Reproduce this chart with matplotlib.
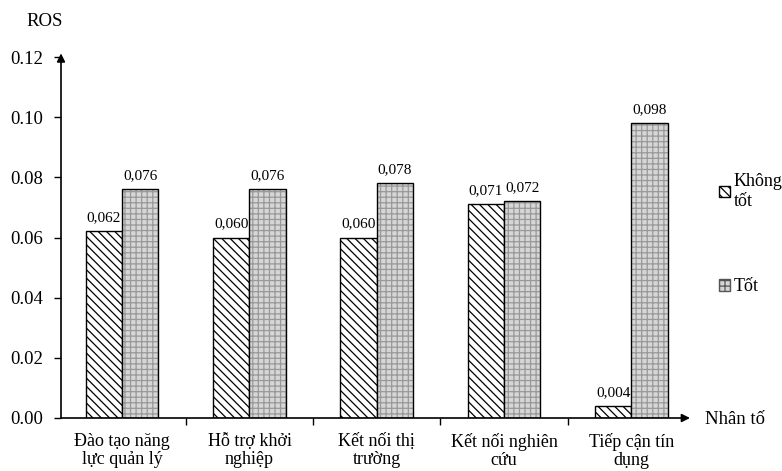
import matplotlib
matplotlib.use("Agg")
import matplotlib.pyplot as plt
import numpy as np
from matplotlib.patches import Patch

plt.rcParams['font.family'] = ['Liberation Serif', 'DejaVu Serif']
plt.rcParams['hatch.linewidth'] = 0.9

categories = ["Đào tạo năng\nlực quản lý", "Hỗ trợ khởi\nnghiệp", "Kết nối thị\ntrường",
              "Kết nối nghiên\ncứu", "Tiếp cận tín\ndụng"]
khong_tot = [0.062, 0.060, 0.060, 0.071, 0.004]
tot = [0.076, 0.076, 0.078, 0.072, 0.098]
khong_tot_labels = ["0,062", "0,060", "0,060", "0,071", "0,004"]
tot_labels = ["0,076", "0,076", "0,078", "0,072", "0,098"]
yticks = [0.00, 0.02, 0.04, 0.06, 0.08, 0.10, 0.12]

fig = plt.figure(figsize=(7.82, 4.71), dpi=100)
ax = fig.add_axes([61 / 782, 1 - 418 / 471, 629 / 782, 361 / 471])

x = np.arange(len(categories))
w = 0.285

# "Không tốt": white with diagonal hatch
ax.bar(x - w / 2, khong_tot, w, color='white', edgecolor='black', hatch='\\\\\\\\', linewidth=1)
# "Tốt": light grey with a faint grid pattern, outline drawn separately
ax.bar(x + w / 2, tot, w, color='#d6d6d6', edgecolor='#999999', hatch='+++', linewidth=0)
ax.bar(x + w / 2, tot, w, fill=False, edgecolor='black', linewidth=1)

for xi, v, s in zip(x - w / 2, khong_tot, khong_tot_labels):
    ax.annotate(s, (xi, v), xytext=(0, 5), textcoords='offset points',
                ha='center', va='bottom', fontsize=11)
for xi, v, s in zip(x + w / 2, tot, tot_labels):
    ax.annotate(s, (xi, v), xytext=(0, 5), textcoords='offset points',
                ha='center', va='bottom', fontsize=11)

ax.set_xlim(-0.48, 4.46)
ax.set_ylim(0, 0.12)
ax.set_yticks(yticks)
ax.set_yticklabels([f"{t:.2f}" for t in yticks], fontsize=13.5)
ax.set_xticks(x)
ax.set_xticklabels(categories, fontsize=13, linespacing=1.05)
# small marks between the category groups
ax.set_xticks(x[:-1] + 0.5, minor=True)
ax.tick_params(axis='x', which='major', length=0, pad=11)
ax.tick_params(axis='x', which='minor', length=5, width=1, direction='out')
ax.tick_params(axis='y', length=5, width=1, direction='out', pad=8)

for s in ax.spines.values():
    s.set_visible(False)

# axes with arrow heads
arrow = dict(arrowstyle='-|>', color='black', lw=1.2, mutation_scale=12, shrinkA=0, shrinkB=0)
ax.annotate('', xy=(0, 1.01), xytext=(0, 0), xycoords='axes fraction', arrowprops=arrow)
ax.annotate('', xy=(1.0, 0), xytext=(0, 0), xycoords='axes fraction', arrowprops=arrow)

fig.text(45 / 782, 1 - 21 / 471, "ROS", fontsize=13.5, ha='center', va='center')
fig.text(705 / 782, 1 - 420 / 471, "Nhân tố", fontsize=13.5, ha='left', va='center')

handles = [Patch(facecolor='white', edgecolor='black', hatch='\\\\\\\\'),
           Patch(facecolor='#d6d6d6', edgecolor='#555555', hatch='+++')]
fig.legend(handles, ["Không\ntốt", "Tốt"], loc='upper left', bbox_to_anchor=(719 / 782, 1 - 173 / 471),
           frameon=False, fontsize=13, handlelength=0.6, handleheight=0.6, handletextpad=0.2,
           labelspacing=3.8, borderpad=0, borderaxespad=0)

fig.savefig("out.png", dpi=100)
